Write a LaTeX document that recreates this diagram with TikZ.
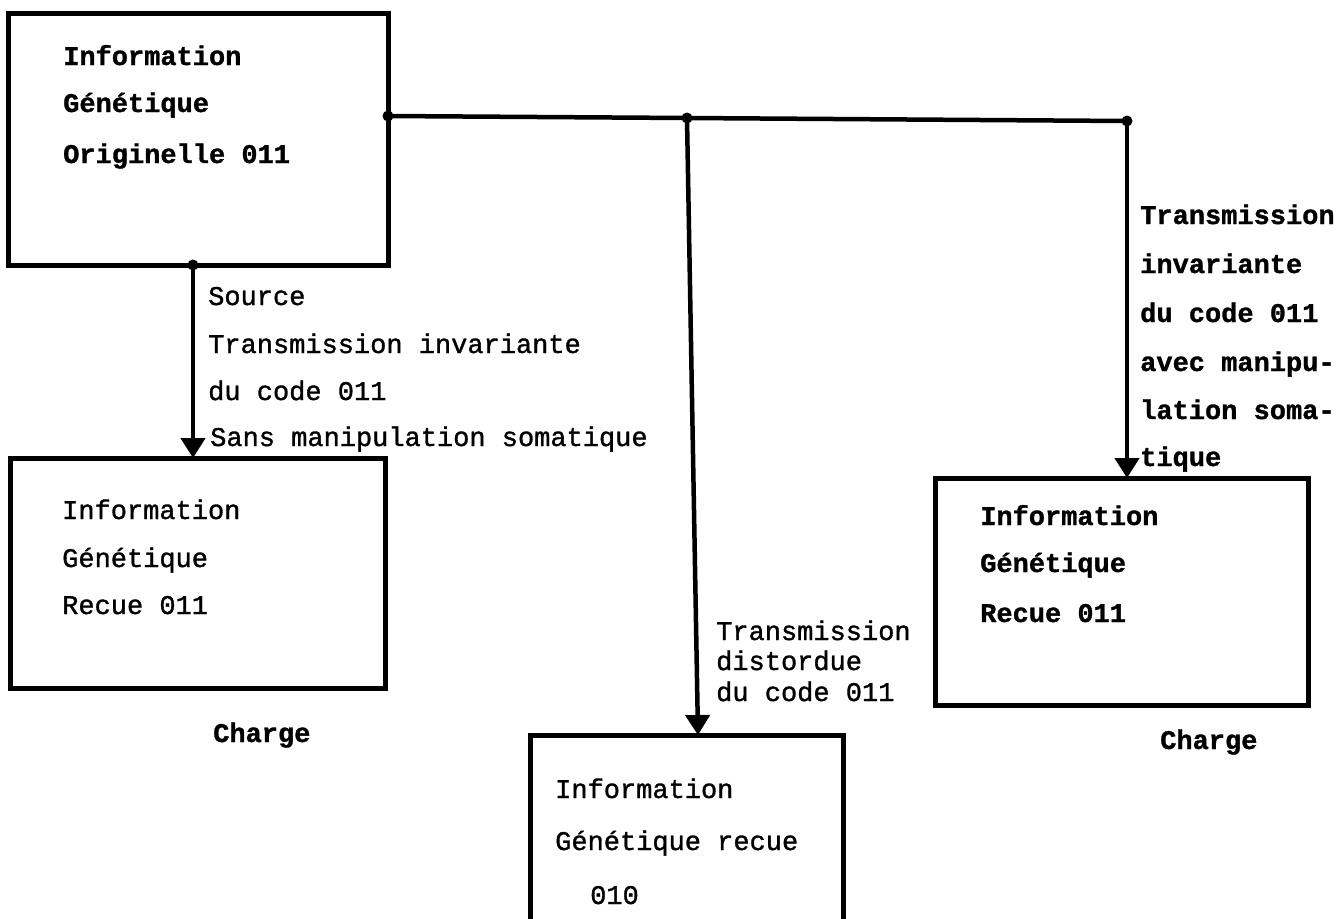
\documentclass[tikz,border=0pt]{standalone}
\usepackage{fontspec}
\newfontfamily\regmono[FakeBold=1.2]{Liberation Mono}
\newfontfamily\boldmono[FakeBold=1.2]{Liberation Mono Bold}
\usetikzlibrary{arrows.meta}
\begin{document}
\begin{tikzpicture}[x=1pt,y=-1pt,
  box/.style={draw, line width=5pt, inner sep=0pt},
  wire/.style={line width=4.5pt},
  arr/.style={wire, -{Triangle[length=20pt,width=24pt]}},
  txt/.style={font=\regmono\fontsize{27}{30}\selectfont, anchor=base west, inner sep=0pt},
  btxt/.style={txt, font=\boldmono\fontsize{27}{30}\selectfont},
  dot/.style={circle, fill, inner sep=0pt, minimum size=11pt}]
\useasboundingbox (0,0) rectangle (1340,918);
\clip (0,0) rectangle (1340,918);

% boxes
\node[box, minimum width=380pt, minimum height=252pt] (b1) at (198,139) {};
\node[box, minimum width=375pt, minimum height=230pt] (b2) at (197.5,573) {};
\node[box, minimum width=373pt, minimum height=227pt] (b4) at (1121.5,591.5) {};
\node[box, minimum width=313pt, minimum height=265pt] (b3) at (686.5,867.5) {};

% box texts
\node[btxt] (b1a) at (63,65) {Information};
\node[btxt] (b1b) at (63,112) {Génétique};
\node[btxt] (b1c) at (63,163) {Originelle 011};

\node[txt] (b2a) at (62,519) {Information};
\node[txt] (b2b) at (62,567) {Génétique};
\node[txt] (b2c) at (62,614) {Recue 011};

\node[btxt] (b4a) at (980,525) {Information};
\node[btxt] (b4b) at (980,572) {Génétique};
\node[btxt] (b4c) at (980,622) {Recue 011};

\node[txt] (b3a) at (555,798) {Information};
\node[txt] (b3b) at (555,850) {Génétique recue};
\node[txt] (b3c) at (590,904) {010};

\node[btxt] (c1) at (213,742) {Charge};
\node[btxt] (c2) at (1160,749) {Charge};

% connector points
\coordinate (s0) at (388,116);
\coordinate (j1) at (687,118);
\coordinate (j2) at (1127,121);
\coordinate (s1) at (193,265);
\coordinate (e1) at (193,458);
\coordinate (e3) at (698,735);
\coordinate (e4) at (1127,478);

\draw[wire] (s0) -- (j1) -- (j2);
\draw[arr] (s1) -- (e1);
\draw[arr] (j1) -- (e3);
\draw[arr] (j2) -- (e4);
\node[dot] (d0) at (s0) {};
\node[dot] (d1) at (j1) {};
\node[dot] (d2) at (j2) {};
\node[dot] (d3) at (s1) {};

% left label
\node[txt] (l1) at (208,305) {Source};
\node[txt] (l2) at (208,353) {Transmission invariante};
\node[txt] (l3) at (208,400) {du code 011};
\node[txt] (l4) at (210,446) {Sans manipulation somatique};

% middle label
\node[txt] (m1) at (716,640) {Transmission};
\node[txt] (m2) at (716,670) {distordue};
\node[txt] (m3) at (716,701) {du code 011};

% right label
\node[btxt] (r1) at (1140,224) {Transmission};
\node[btxt] (r2) at (1140,273) {invariante};
\node[btxt] (r3) at (1140,322) {du code 011};
\node[btxt] (r4) at (1140,371) {avec manipu-};
\node[btxt] (r5) at (1140,419) {lation soma-};
\node[btxt] (r6) at (1140,466) {tique};
\end{tikzpicture}
\end{document}
